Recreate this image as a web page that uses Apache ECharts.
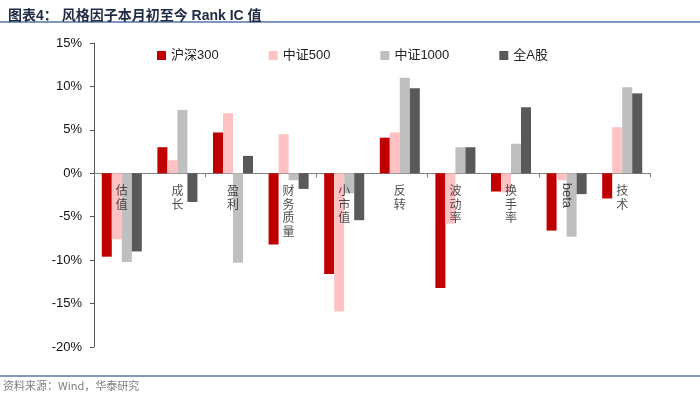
<!DOCTYPE html>
<html>
<head>
<meta charset="utf-8">
<script src="https://cdn.jsdelivr.net/npm/echarts@6/dist/echarts.min.js"></script>
<style>
  html, body { margin: 0; padding: 0; background: #fff; }
  #chart { width: 700px; height: 397px; }
</style>
</head>
<body>
<div id="chart"></div>
<script>
// 风格因子
const categories = ['估值', '成长', '盈利', '财务质量', '小市值', '反转', '波动率', '换手率', 'beta', '技术']
const seriesNames = ['沪深300', '中证500', '中证1000', '全A股']
// Rank IC (%)
const hs300 = [-9.6, 3.0, 4.7, -8.2, -11.6, 4.1, -13.2, -2.1, -6.6, -2.9]
const zz500 = [-7.6, 1.5, 6.9, 4.5, -15.9, 4.7, -5.8, -2.2, -0.8, 5.3]
const zz1000 = [-10.2, 7.3, -10.3, -0.8, -2.3, 11.0, 3.0, 3.4, -7.3, 9.9]
const allA = [-9.0, -3.3, 2.0, -1.8, -5.4, 9.8, 3.0, 7.6, -2.4, 9.2]
const yTicks = [-20, -15, -10, -5, 0, 5, 10, 15]

const colors = ['#c00000', '#ffc1c1', '#bfbfbf', '#595959']
const cjk = '"Noto Sans CJK SC", sans-serif'
const latin = '"Liberation Sans", Arial, "Noto Sans CJK SC", sans-serif'

const chart = echarts.init(document.getElementById('chart'))

const barSeries = [hs300, zz500, zz1000, allA].map((d, i) => ({
  name: seriesNames[i],
  type: 'bar',
  data: d,
  barGap: '0%',
  barCategoryGap: '28%',
  itemStyle: { color: colors[i] }
}))

// 类目标签贴着 0 轴画：中文竖排，beta 旋转
const labelPoints = categories.map(c => {
  if (c === 'beta') {
    return {
      value: [c, 0],
      label: {
        formatter: c, rotate: -90, align: 'left', verticalAlign: 'middle',
        fontFamily: latin, fontSize: 13, color: '#111', distance: 9
      }
    }
  }
  return { value: [c, 0], label: { formatter: c.split('').join('\n') } }
})

const option = {
  animation: false,
  color: colors,
  title: {
    text: '图表4： 风格因子本月初至今 Rank IC 值',
    left: 3,
    top: 4,
    textStyle: { fontSize: 14, fontWeight: 'bold', color: '#1f2a44', fontFamily: latin }
  },
  graphic: [
    { type: 'rect', shape: { x: 0, y: 21, width: 700, height: 2 }, style: { fill: '#7f97bd' } },
    { type: 'rect', shape: { x: 0, y: 375, width: 700, height: 2 }, style: { fill: '#7f97bd' } },
    {
      type: 'text', left: 3, top: 380,
      style: { text: '资料来源：Wind，华泰研究', fontSize: 11, fill: '#7f7f7f', fontFamily: cjk }
    }
  ],
  legend: {
    data: seriesNames,
    left: 152,
    top: 44,
    itemWidth: 9,
    itemHeight: 9,
    itemGap: 50,
    icon: 'rect',
    textStyle: { fontSize: 13, color: '#222', fontFamily: latin }
  },
  grid: { left: 94, right: 50, top: 43, bottom: 50, outerBoundsMode: 'none' },
  xAxis: {
    type: 'category',
    data: categories,
    axisLine: { onZero: true, lineStyle: { color: '#808080' } },
    axisTick: { show: true, length: 4, lineStyle: { color: '#808080' } },
    axisLabel: { show: false }
  },
  yAxis: {
    type: 'value',
    min: -20,
    max: 15,
    interval: 5,
    splitLine: { show: false },
    axisLine: { show: true, lineStyle: { color: '#555' } },
    axisTick: { show: true, length: 4, lineStyle: { color: '#555' } },
    axisLabel: {
      fontSize: 13, color: '#111', fontFamily: latin, margin: 12,
      formatter: v => yTicks.includes(v) ? v + '%' : ''
    }
  },
  series: barSeries.concat([{
    type: 'scatter',
    silent: true,
    z: 10,
    symbolSize: 1,
    itemStyle: { color: 'rgba(0,0,0,0)' },
    data: labelPoints,
    label: {
      show: true,
      position: 'bottom',
      distance: 10,
      fontSize: 12,
      lineHeight: 13.5,
      color: '#222',
      fontFamily: cjk
    }
  }])
}

chart.setOption(option)
</script>
</body>
</html>
